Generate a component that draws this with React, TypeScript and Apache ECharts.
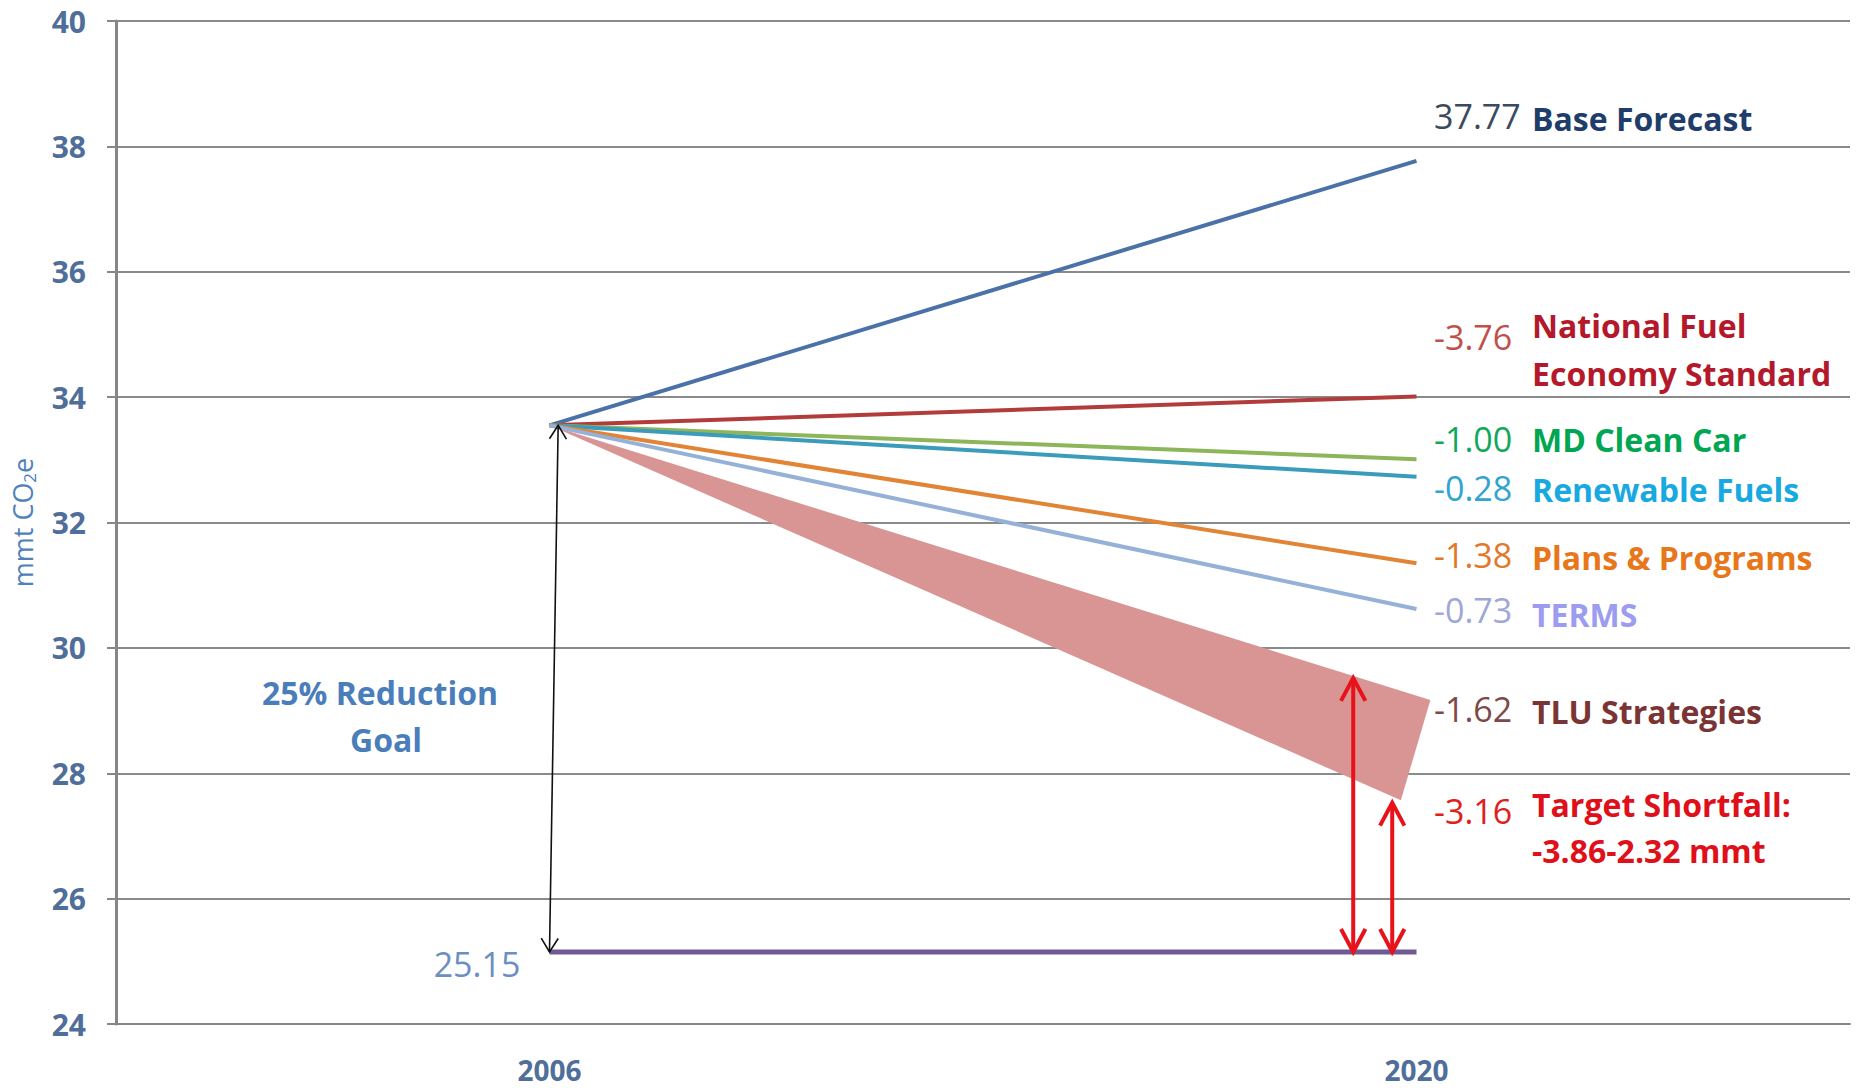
import React, { useEffect, useRef } from "react";
import * as echarts from "echarts";

// ---- data ----
const years = ["2006", "2020"];
const start2006 = 33.55;
const baseForecast2020 = 37.77;
const strategyNames = [
  "National Fuel Economy Standard",
  "MD Clean Car",
  "Renewable Fuels",
  "Plans & Programs",
  "TERMS",
];
const strategyChanges = [-3.76, -1.0, -0.28, -1.38, -0.73];
const tluChange = -1.62;
const shortfallChange = -3.16;
const goalValue = 25.15;
// TLU strategies wedge: [x index, value]
const tluWedge = [
  [0, 33.55],
  [1.016, 29.17],
  [0.982, 27.57],
];
// shortfall arrows: [x index, from value, to value]
const shortfallArrows = [
  [0.927, 25.15, 29.52],
  [0.972, 25.15, 27.53],
];
const goalArrow = [[0.01, 33.55, 0, 25.15]];

// ---- styles ----
const FONT = '"Open Sans", "Noto Sans", sans-serif';
const lineColors = ["#4A72A8", "#B23C3C", "#8DB55A", "#3A9BBB", "#E28436", "#95B1D8"];
const nameColors = ["#1F3D6B", "#B3192B", "#00A651", "#18A9E0", "#E8761A", "#9C9CF0"];
const valueColors = ["#3B4A5E", "#C0504D", "#12A85A", "#31A4D0", "#E3782A", "#9FA7D6"];

function txt(text: string, x: number, y: number, color: string, size: number, bold: boolean, align = "left") {
  return {
    type: "text",
    x,
    y,
    silent: true,
    style: {
      text,
      x: 0,
      y: 0,
      fill: color,
      fontSize: size,
      fontWeight: bold ? "bold" : "normal",
      fontFamily: FONT,
      align,
      verticalAlign: "middle",
      textAlign: align,
      textVerticalAlign: "middle",
    },
  };
}

function arrowRender(color: string, width: number, headLen: number, headAngle: number) {
  return (params: any, api: any) => {
    const a = api.coord([api.value(0), api.value(1)]);
    const b = api.coord([api.value(2), api.value(3)]);
    const head = (tip: number[], from: number[]) => {
      const dx = tip[0] - from[0];
      const dy = tip[1] - from[1];
      const len = Math.sqrt(dx * dx + dy * dy) || 1;
      const ux = dx / len;
      const uy = dy / len;
      const arm = (ang: number) => {
        const c = Math.cos(ang);
        const s = Math.sin(ang);
        const rx = ux * c - uy * s;
        const ry = ux * s + uy * c;
        return [tip[0] - rx * headLen, tip[1] - ry * headLen];
      };
      return {
        type: "polyline",
        shape: { points: [arm(headAngle), tip, arm(-headAngle)] },
        style: { stroke: color, lineWidth: width, fill: null, lineJoin: "miter" },
      };
    };
    return {
      type: "group",
      children: [
        { type: "line", shape: { x1: a[0], y1: a[1], x2: b[0], y2: b[1] }, style: { stroke: color, lineWidth: width } },
        head(a, b),
        head(b, a),
      ],
    };
  };
}

export default function App() {
  const ref = useRef<HTMLDivElement>(null);
  useEffect(() => {
    if (!ref.current) return;
    const chart = echarts.init(ref.current, null, { renderer: "svg" });

    const ends: number[] = [baseForecast2020];
    strategyChanges.forEach((c) => ends.push(+(ends[ends.length - 1] + c).toFixed(2)));
    const names = ["Base Forecast", ...strategyNames];

    const lineSeries = ends.map((v, i) => ({
      type: "line",
      name: names[i],
      data: [
        [0, start2006],
        [1, v],
      ],
      showSymbol: false,
      symbol: "none",
      z: 5,
      lineStyle: { color: lineColors[i], width: 4 },
      silent: true,
    }));

    const fmt = (v: number) => v.toFixed(2);

    const graphics: any[] = [
      txt(fmt(baseForecast2020), 1434, 116, valueColors[0], 34, false),
      txt("Base Forecast", 1532, 118, nameColors[0], 32, true),
      txt(fmt(strategyChanges[0]), 1434, 337, valueColors[1], 34, false),
      txt("National Fuel", 1532, 325, nameColors[1], 32, true),
      txt("Economy Standard", 1532, 373, nameColors[1], 32, true),
      txt(fmt(strategyChanges[1]), 1434, 439, valueColors[2], 34, false),
      txt(strategyNames[1], 1532, 439, nameColors[2], 32, true),
      txt(fmt(strategyChanges[2]), 1434, 488, valueColors[3], 34, false),
      txt(strategyNames[2], 1532, 489, nameColors[3], 32, true),
      txt(fmt(strategyChanges[3]), 1434, 555, valueColors[4], 34, false),
      txt(strategyNames[3], 1532, 557, nameColors[4], 32, true),
      txt(fmt(strategyChanges[4]), 1434, 610, valueColors[5], 34, false),
      txt(strategyNames[4], 1532, 614, nameColors[5], 32, true),
      txt(fmt(tluChange), 1434, 709, "#7D4A4A", 34, false),
      txt("TLU Strategies", 1532, 711, "#7A3434", 32, true),
      txt(fmt(shortfallChange), 1434, 811, "#E02020", 34, false),
      txt("Target Shortfall:", 1532, 804, "#E0101A", 32, true),
      txt("-3.86-2.32 mmt", 1532, 850, "#E0101A", 32, true),
      txt(goalValue.toFixed(2), 477, 964, "#6A8FC0", 34, false, "center"),
      txt("25% Reduction", 380, 692, "#4A7EBB", 32, true, "center"),
      txt("Goal", 386, 739, "#4A7EBB", 32, true, "center"),
    ];

    chart.setOption({
      animation: false,
      backgroundColor: "#ffffff",
      grid: { left: 116, right: 12, top: 21, bottom: 67, containLabel: false, outerBoundsMode: "none" },
      xAxis: {
        type: "value",
        min: -0.5,
        max: 1.5,
        interval: 0.5,
        axisLine: { show: true, onZero: false, lineStyle: { color: "#868686", width: 2 } },
        axisTick: { show: false },
        splitLine: { show: false },
        axisLabel: {
          margin: 32,
          fontFamily: FONT,
          fontWeight: "bold",
          fontSize: 28,
          lineHeight: 28,
          color: "#4F6E9A",
          formatter: (v: number) => (Math.abs(v) < 1e-6 ? years[0] : Math.abs(v - 1) < 1e-6 ? years[1] : ""),
        },
      },
      yAxis: {
        type: "value",
        min: 24,
        max: 40,
        interval: 2,
        name: "{a|mmt CO}{b|2}{a|e}",
        nameLocation: "middle",
        nameRotate: 90,
        nameGap: 78,
        nameTextStyle: {
          rich: {
            a: { fontFamily: FONT, fontSize: 27, color: "#4F81BD", lineHeight: 32 },
            b: { fontFamily: FONT, fontSize: 17, color: "#4F81BD", lineHeight: 17, verticalAlign: "bottom" },
          },
        },
        axisLine: { show: true, onZero: false, lineStyle: { color: "#868686", width: 3 } },
        axisTick: { show: true, length: 9, lineStyle: { color: "#868686", width: 2 } },
        axisLabel: { margin: 30, fontFamily: FONT, fontWeight: "bold", fontSize: 30, color: "#4F6E9A" },
        splitLine: { show: true, lineStyle: { color: "#8A8A8A", width: 2 } },
      },
      series: [
        {
          type: "custom",
          name: "TLU Strategies",
          data: [tluWedge[0]],
          z: 2,
          silent: true,
          clip: false,
          renderItem: (params: any, api: any) => ({
            type: "polygon",
            shape: { points: tluWedge.map((p) => api.coord(p)) },
            style: { fill: "#D99594" },
          }),
        },
        ...lineSeries,
        {
          type: "line",
          name: "25% Reduction Goal",
          data: [
            [0, goalValue],
            [1, goalValue],
          ],
          showSymbol: false,
          symbol: "none",
          z: 6,
          lineStyle: { color: "#6F5A94", width: 5 },
          silent: true,
        },
        {
          type: "custom",
          name: "goalArrow",
          data: goalArrow,
          z: 7,
          silent: true,
          clip: false,
          renderItem: arrowRender("#111111", 1.6, 16, (32 * Math.PI) / 180),
        },
        {
          type: "custom",
          name: "shortfallArrows",
          data: shortfallArrows.map((a) => [a[0], a[1], a[0], a[2]]),
          z: 8,
          silent: true,
          clip: false,
          renderItem: arrowRender("#E8131A", 4, 26, (28 * Math.PI) / 180),
        },
      ],
      graphic: graphics,
    });
    return () => chart.dispose();
  }, []);
  return <div ref={ref} style={{ position: "fixed", left: 0, top: 0, width: 1862, height: 1091 }} />;
}
